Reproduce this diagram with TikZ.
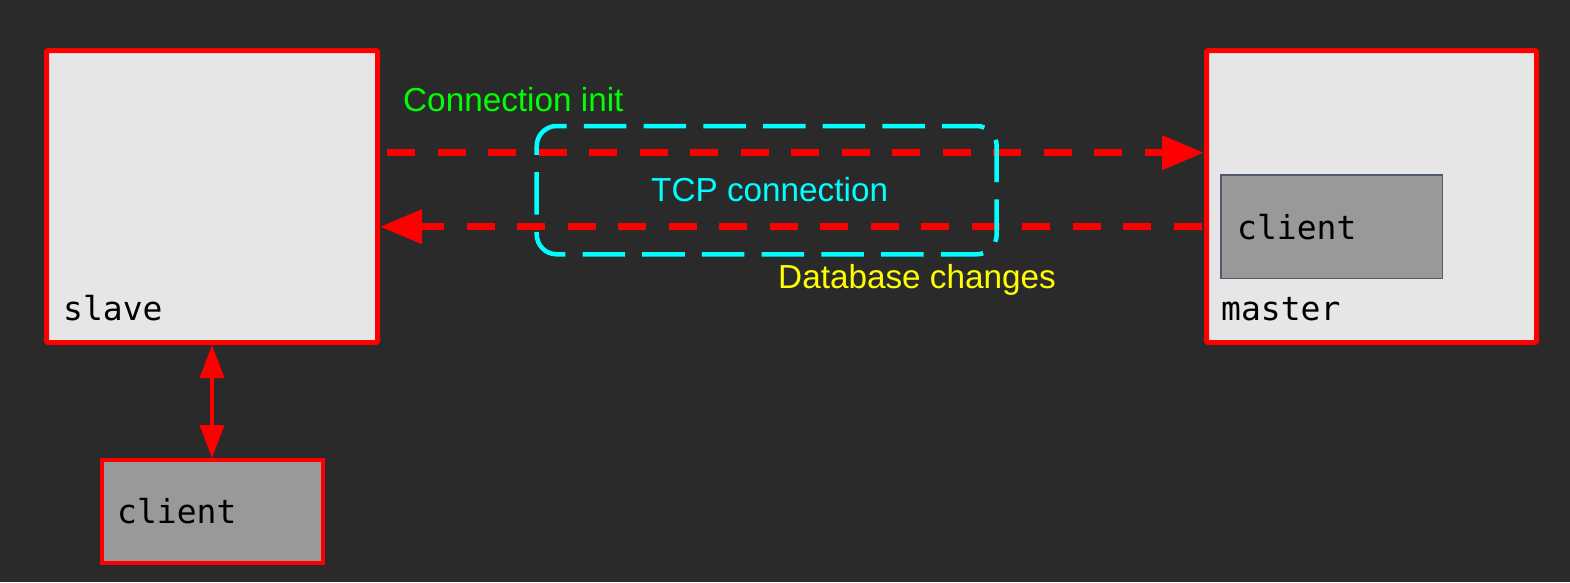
\documentclass[tikz,border=0pt]{standalone}
\usepackage{fontspec}
\setmainfont{Liberation Sans}
\setmonofont{DejaVu Sans Mono}
\usetikzlibrary{arrows.meta}
\definecolor{bgdark}{HTML}{2A2A2A}
\definecolor{boxfill}{HTML}{E6E6E6}
\definecolor{clientfill}{HTML}{999999}
\definecolor{clientedge}{HTML}{4F5B6E}
\definecolor{pured}{HTML}{FF0000}
\definecolor{tcpcyan}{HTML}{00FFFF}
\definecolor{initgreen}{HTML}{00FF00}
\definecolor{dbyellow}{HTML}{FFFF00}
\tikzset{
  hostbox/.style={draw=pured, fill=boxfill, line width=5pt, rounded corners=1.5pt, inner sep=0pt},
  clientbox/.style={fill=clientfill, inner sep=0pt, minimum width=221pt, minimum height=103pt},
  monolabel/.style={font=\fontsize{33}{38}\selectfont\ttfamily, text=black, anchor=base west, inner sep=0pt},
  sanslabel/.style={font=\fontsize{33.3}{38}\selectfont, anchor=base west, inner sep=0pt},
  flowarrow/.style={draw=pured, line width=7pt, dash pattern=on 28pt off 22.5pt, -{Triangle[length=42pt,width=33pt]}},
  linkarrow/.style={draw=pured, line width=4pt, {Triangle[length=33pt,width=24pt]}-{Triangle[length=33pt,width=24pt]}},
  tcpbox/.style={draw=tcpcyan, line width=4.5pt, rounded corners=20pt, dash pattern=on 42.5pt off 17.2pt, dash phase=32.5pt}
}
\begin{document}
\begin{tikzpicture}[x=1pt,y=-1pt]
\fill[bgdark] (0,0) rectangle (1570,582);
\useasboundingbox (0,0) rectangle (1570,582);

% hosts
\node[hostbox, minimum width=331pt, minimum height=292pt] (slave) at (212,196.5) {};
\node[hostbox, minimum width=330pt, minimum height=292pt] (master) at (1371.5,196.5) {};

% clients
\node[clientbox, draw=clientedge, line width=1.5pt, minimum width=221.5pt, minimum height=103.5pt] (mclient) at (1331.5,226.5) {};
\node[clientbox, draw=pured, line width=4pt] (sclient) at (212,511.5) {};

% labels in boxes
\node[monolabel] (slavelbl) at (63,320) {slave};
\node[monolabel] (masterlbl) at (1221,320) {master};
\node[monolabel] (mclientlbl) at (1237,239) {client};
\node[monolabel] (sclientlbl) at (117,523) {client};

% replication arrows
\draw[flowarrow, dash phase=43.5pt] (slave.east |- 0,152.7) -- (master.west |- 0,152.7);
\draw[flowarrow, dash phase=48.2pt] (master.west |- 0,226.7) -- (slave.east |- 0,226.7);

% TCP connection box (drawn over the arrows)
\draw[tcpbox] (556.7,126) -- (996.7,126) -- (996.7,254.3) -- (536.7,254.3) -- (536.7,126) -- (556.7,126);
\node[sanslabel, text=tcpcyan] (tcplbl) at (651,201.7) {TCP connection};

\node[sanslabel, text=initgreen] (initlbl) at (403,111.5) {Connection init};
\node[sanslabel, text=dbyellow] (dblbl) at (778,288.3) {Database changes};

% slave <-> client
\draw[linkarrow] (slave.south) -- (sclient.north);
\end{tikzpicture}
\end{document}
